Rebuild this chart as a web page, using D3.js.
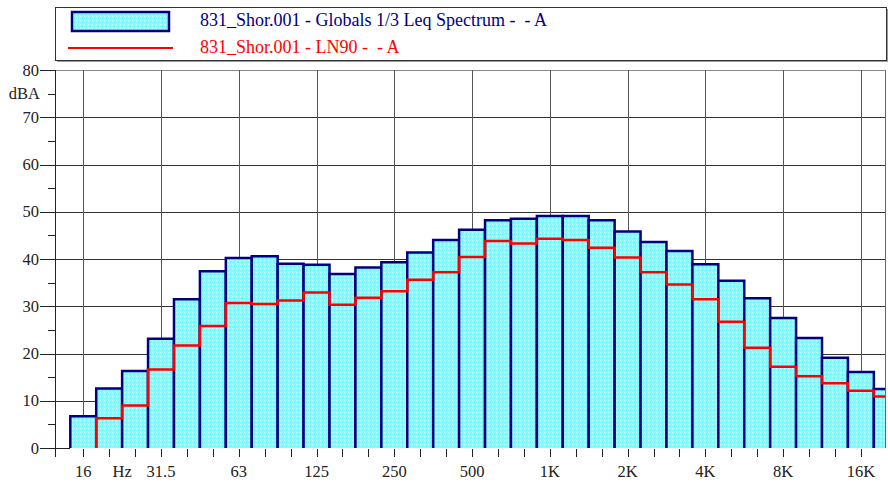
<!DOCTYPE html>
<html>
<head>
<meta charset="utf-8">
<script src="https://cdn.jsdelivr.net/npm/d3@7"></script>
<style>
  body { margin: 0; background: #fff; }
  svg { display: block; }
</style>
</head>
<body>
<svg id="chart"></svg>
<script>
// 1/3 octave band centres, 16 Hz .. 20 kHz
const bands = ["16", "20", "25", "31.5", "40", "50", "63", "80", "100", "125", "160", "200",
    "250", "315", "400", "500", "630", "800", "1K", "1.25K", "1.6K", "2K", "2.5K", "3.15K",
    "4K", "5K", "6.3K", "8K", "10K", "12.5K", "16K", "20K"];

// Leq per band (dBA)
const leq = [6.7, 12.6, 16.3, 23.1, 31.5, 37.4, 40.2, 40.6, 39.0, 38.8, 36.8, 38.2,
    39.3, 41.4, 44.0, 46.2, 48.2, 48.5, 49.1, 49.1, 48.2, 45.8, 43.6, 41.7,
    38.9, 35.4, 31.7, 27.5, 23.3, 19.1, 16.1, 12.5];

// LN90 per band (dBA), nothing at 16 Hz
const ln90 = [null, 6.3, 9.0, 16.6, 21.7, 25.8, 30.7, 30.5, 31.2, 32.9, 30.3, 31.8,
    33.2, 35.6, 37.2, 40.4, 43.8, 43.3, 44.3, 44.0, 42.4, 40.3, 37.2, 34.6,
    31.5, 26.7, 21.2, 17.2, 15.2, 13.7, 12.1, 10.9];

const octaveLabels = ["16", "31.5", "63", "125", "250", "500", "1K", "2K", "4K", "8K", "16K"];
const yTicks = [0, 10, 20, 30, 40, 50, 60, 70, 80];

const legendNames = ["831_Shor.001 - Globals 1/3 Leq Spectrum -  - A", "831_Shor.001 - LN90 -  - A"];

const width = 888, height = 482;
const margin = { top: 70, right: 2, bottom: 34, left: 55 };
const serif = "Liberation Serif, DejaVu Serif, serif";

const svg = d3.select("#chart")
    .attr("width", width)
    .attr("height", height);

const defs = svg.append("defs");

// dotted cyan fill
const pat = defs.append("pattern")
    .attr("id", "dots")
    .attr("patternUnits", "userSpaceOnUse")
    .attr("width", 4)
    .attr("height", 4);
pat.append("rect").attr("width", 4).attr("height", 4).attr("fill", "#80ffff");
pat.append("rect").attr("x", 0).attr("y", 0).attr("width", 1).attr("height", 1).attr("fill", "#c8ffff");
pat.append("rect").attr("x", 2).attr("y", 2).attr("width", 1).attr("height", 1).attr("fill", "#66e6f2");

const plotW = width - margin.left - margin.right - 1;
const plotH = height - margin.top - margin.bottom;

defs.append("clipPath").attr("id", "plotClip")
    .append("rect")
    .attr("x", margin.left).attr("y", margin.top - 2)
    .attr("width", plotW).attr("height", plotH + 4);

// x in band index (16 Hz = 0), y in dB
const x = d3.scaleLinear()
    .domain([-1.09, 30.93])
    .range([margin.left, margin.left + plotW]);

const y = d3.scaleLinear()
    .domain([0, 80])
    .range([margin.top + plotH, margin.top]);

const half = 0.5;

// ---- legend ----
const legend = svg.append("g");
legend.append("rect")
    .attr("x", 57).attr("y", 9)
    .attr("width", 831).attr("height", 53)
    .attr("fill", "#999");
legend.append("rect")
    .attr("x", 55.5).attr("y", 7.5)
    .attr("width", 831).attr("height", 53)
    .attr("fill", "#fff")
    .attr("stroke", "#333")
    .attr("stroke-width", 1);

legend.append("rect")
    .attr("x", 72).attr("y", 12)
    .attr("width", 97).attr("height", 19)
    .attr("fill", "url(#dots)")
    .attr("stroke", "#000080")
    .attr("stroke-width", 2.5);
legend.append("text")
    .attr("x", 200).attr("y", 26)
    .style("font-family", serif)
    .style("font-size", "18px")
    .style("white-space", "pre")
    .attr("fill", "#000080")
    .text(legendNames[0]);

legend.append("line")
    .attr("x1", 68).attr("x2", 173)
    .attr("y1", 48).attr("y2", 48)
    .attr("stroke", "#ff0000")
    .attr("stroke-width", 2);
legend.append("text")
    .attr("x", 200).attr("y", 53)
    .style("font-family", serif)
    .style("font-size", "18px")
    .style("white-space", "pre")
    .attr("fill", "#ff0000")
    .text(legendNames[1]);

// ---- grid ----
const grid = svg.append("g").attr("shape-rendering", "crispEdges");

grid.selectAll(".hg")
    .data(yTicks.filter(d => d > 0))
    .enter().append("line")
    .attr("x1", margin.left).attr("x2", margin.left + plotW)
    .attr("y1", d => Math.round(y(d)) + 0.5)
    .attr("y2", d => Math.round(y(d)) + 0.5)
    .attr("stroke", d => d === 80 ? "#888" : "#333");

grid.selectAll(".vg")
    .data(octaveLabels)
    .enter().append("line")
    .attr("x1", d => Math.round(x(bands.indexOf(d))) + 0.5)
    .attr("x2", d => Math.round(x(bands.indexOf(d))) + 0.5)
    .attr("y1", margin.top).attr("y2", margin.top + plotH)
    .attr("stroke", "#555");

// right frame
grid.append("line")
    .attr("x1", margin.left + plotW + 0.5).attr("x2", margin.left + plotW + 0.5)
    .attr("y1", margin.top).attr("y2", margin.top + plotH)
    .attr("stroke", "#666");

// ---- bars ----
const plot = svg.append("g").attr("clip-path", "url(#plotClip)");

plot.selectAll(".bar")
    .data(leq)
    .enter().append("path")
    .attr("d", (d, i) => {
        const x0 = x(i - half), x1 = x(i + half);
        return `M${x0},${y(0)}V${y(d)}H${x1}V${y(0)}`;
    })
    .attr("fill", "url(#dots)")
    .attr("stroke", "#000080")
    .attr("stroke-width", 2.5)
    .attr("stroke-linejoin", "miter");

// ---- LN90 step line ----
const steps = [];
ln90.forEach((v, i) => {
    if (v == null) return;
    if (steps.length === 0) steps.push([i - half, 0]);
    steps.push([i - half, v]);
    steps.push([i + half, v]);
});

const line = d3.line()
    .x(d => x(d[0]))
    .y(d => y(d[1]));

plot.append("path")
    .datum(steps)
    .attr("d", line)
    .attr("fill", "none")
    .attr("stroke", "#ff0000")
    .attr("stroke-width", 2.5);

// ---- axes ----
const axes = svg.append("g").attr("shape-rendering", "crispEdges");
const y0px = Math.round(y(0)) + 0.5;
const xAx = Math.round(margin.left) + 0.5;

axes.append("line")
    .attr("x1", xAx).attr("x2", xAx)
    .attr("y1", margin.top).attr("y2", y0px + 8)
    .attr("stroke", "#222");
axes.append("line")
    .attr("x1", margin.left).attr("x2", x(-half))
    .attr("y1", y0px).attr("y2", y0px)
    .attr("stroke", "#222");

// y ticks (major every 10, minor every 5)
const yAll = d3.range(0, 81, 5);
axes.selectAll(".yt")
    .data(yAll)
    .enter().append("line")
    .attr("x1", d => d % 10 === 0 ? 40 : 48)
    .attr("x2", margin.left)
    .attr("y1", d => Math.round(y(d)) + 0.5)
    .attr("y2", d => Math.round(y(d)) + 0.5)
    .attr("stroke", "#222");

const lbl = svg.append("g")
    .style("font-family", serif)
    .style("font-size", "16.5px")
    .attr("fill", "#222");

lbl.selectAll(".yl")
    .data(yTicks)
    .enter().append("text")
    .attr("x", 39)
    .attr("y", d => y(d) + 5.5)
    .attr("text-anchor", "end")
    .text(d => d);

lbl.append("text")
    .attr("x", 40)
    .attr("y", y(75) + 5.5)
    .attr("text-anchor", "end")
    .text("dBA");

// x ticks at every band
axes.selectAll(".xt")
    .data(bands.map((b, i) => i).filter(i => x(i) <= margin.left + plotW))
    .enter().append("line")
    .attr("x1", i => Math.round(x(i)) + 0.5)
    .attr("x2", i => Math.round(x(i)) + 0.5)
    .attr("y1", y0px).attr("y2", y0px + 8)
    .attr("stroke", "#222");

lbl.selectAll(".xl")
    .data(octaveLabels)
    .enter().append("text")
    .attr("x", d => x(bands.indexOf(d)))
    .attr("y", 477)
    .attr("text-anchor", "middle")
    .text(d => d);

lbl.append("text")
    .attr("x", x(1.5))
    .attr("y", 477)
    .attr("text-anchor", "middle")
    .text("Hz");
</script>
</body>
</html>
